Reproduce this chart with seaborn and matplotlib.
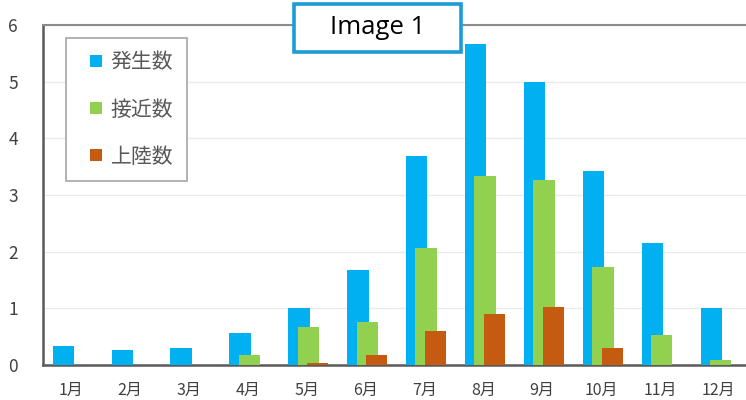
import numpy as np
import matplotlib
matplotlib.use("Agg")
import matplotlib.pyplot as plt
from matplotlib.lines import Line2D
from matplotlib.patches import Rectangle
import seaborn as sns

months = ['1月', '2月', '3月', '4月', '5月', '6月', '7月', '8月', '9月', '10月', '11月', '12月']
hassei = [0.34, 0.26, 0.30, 0.57, 1.00, 1.67, 3.69, 5.66, 4.99, 3.43, 2.16, 1.00]
sekkin = [0.00, 0.00, 0.00, 0.17, 0.67, 0.76, 2.07, 3.33, 3.26, 1.73, 0.53, 0.08]
joriku = [0.00, 0.00, 0.00, 0.00, 0.04, 0.17, 0.60, 0.90, 1.03, 0.30, 0.00, 0.00]
series_names = ['発生数', '接近数', '上陸数']
colors = ['#00B0F0', '#92D050', '#C55A11']

sns.set_theme(style='white')
plt.rcParams['font.family'] = ['Noto Sans CJK JP', 'DejaVu Sans']

fig = plt.figure(figsize=(7.46, 4.0), dpi=100)
ax = fig.add_axes([43 / 746, 35 / 400, 703 / 746, 340 / 400])

x = np.arange(len(months))
offsets = [-0.13, 0.03, 0.19]
for vals, col, off in zip([hassei, sekkin, joriku], colors, offsets):
    sns.barplot(x=x + off, y=vals, native_scale=True, width=0.364, color=col,
                errorbar=None, linewidth=0, saturation=1, ax=ax, zorder=3)

ax.set_xlim(-0.475, 11.46)
ax.set_ylim(0, 6)
ax.set_xticks(x)
ax.set_xticklabels(months)
ax.set_yticks(range(7))
ax.set_xlabel('')
ax.set_ylabel('')
ax.tick_params(axis='x', length=0, pad=12, labelsize=11.5, labelcolor='#404040')
ax.tick_params(axis='y', length=0, pad=18, labelsize=12.5, labelcolor='#404040')

ax.yaxis.grid(True, color='#EBEBEB', linewidth=1, zorder=0)
ax.set_axisbelow(True)
for side in ['left', 'bottom']:
    ax.spines[side].set_color('#595959')
    ax.spines[side].set_linewidth(1.8)
ax.spines['top'].set_color('#8C8C8C')
ax.spines['top'].set_linewidth(1.5)
ax.spines['right'].set_visible(False)

handles = [Line2D([0], [0], marker='s', linestyle='none', markersize=8.5,
                  markerfacecolor=c, markeredgewidth=0) for c in colors]
leg = ax.legend(handles, series_names, loc='upper left',
                bbox_to_anchor=(66 / 746, 1 - 38 / 400), bbox_transform=fig.transFigure,
                borderaxespad=0, fontsize=15, labelcolor='#595959', frameon=True,
                fancybox=False, edgecolor='#A6A6A6', framealpha=1,
                handlelength=1.6, handletextpad=-0.1, labelspacing=1.2, borderpad=0.65)
leg.get_frame().set_linewidth(1.2)

# "Image 1" label box over the top of the frame
fig.add_artist(Rectangle((294 / 746, 1 - 52 / 400), 167 / 746, 48 / 400,
                         transform=fig.transFigure, facecolor='white',
                         edgecolor='#1B9BD7', linewidth=2.6, zorder=10))
fig.text(377.5 / 746, 1 - 28 / 400, 'Image 1', ha='center', va='center',
         fontsize=18.5, family=['Open Sans', 'DejaVu Sans'], color='black', zorder=11)

fig.savefig('out.png', dpi=100)
